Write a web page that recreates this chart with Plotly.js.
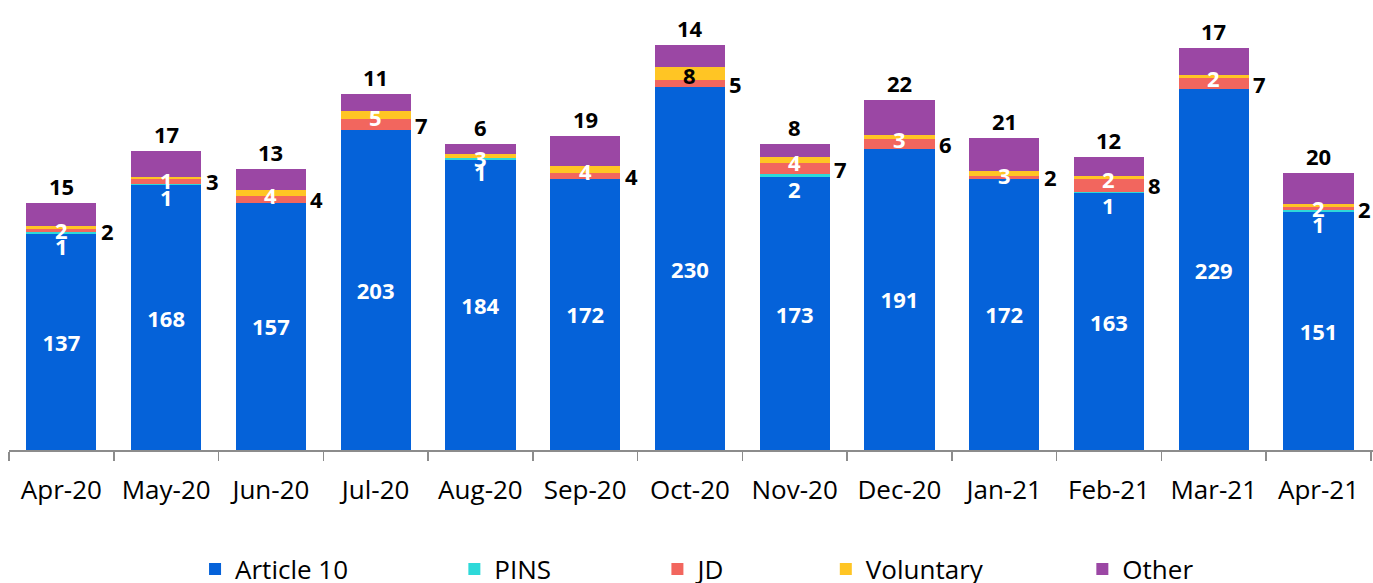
<!DOCTYPE html>
<html>
<head>
<meta charset="utf-8">
<script src="https://cdn.plot.ly/plotly-3.0.1.min.js"></script>
<style>html,body{margin:0;padding:0;background:#fff;}#chart{width:1373px;height:583px;}</style>
</head>
<body>
<div id="chart"></div>
<script>
const months = ["Apr-20","May-20","Jun-20","Jul-20","Aug-20","Sep-20","Oct-20","Nov-20","Dec-20","Jan-21","Feb-21","Mar-21","Apr-21"];
const article10 = [137,168,157,203,184,172,230,173,191,172,163,229,151];
const pins      = [1,1,0,0,1,0,0,2,0,0,1,0,1];
const jd        = [2,3,4,7,0,4,5,7,6,2,8,7,2];
const voluntary = [2,1,4,5,3,4,8,4,3,3,2,2,2];
const other     = [15,17,13,11,6,19,14,8,22,21,12,17,20];
const seriesNames = ["Article 10","PINS","JD","Voluntary","Other"];

const colors = ["#0562D9","#2ED9D9","#F2665E","#FFC524","#9B47A4"];
const volLabelColor = months.map(m => m === "Oct-20" ? "#000000" : "#FFFFFF");
const FONT = "'Open Sans', sans-serif";
const LBL = 22;
const pad = ["\u00a0".repeat(15),"\u00a0".repeat(15),"\u00a0".repeat(14),"\u00a0".repeat(14),""];

const seriesVals = [article10,pins,jd,voluntary,other];
const traces = seriesVals.map((vals,i) => ({
  type:"bar", x:months, y:vals, name:seriesNames[i]+pad[i],
  marker:{color:colors[i], line:{width:0}},
  hoverinfo:"skip",
  text: i===0 ? vals.map(String) : undefined,
  textposition: i===0 ? "inside" : "none",
  insidetextanchor:"middle",
  textfont:{family:FONT, size:LBL, color:"#FFFFFF", weight:"bold"},
  constraintext:"none"
}));

const annotations = [];
months.forEach((m,k) => {
  const b1 = article10[k];
  const b2 = b1 + pins[k];
  const b3 = b2 + jd[k];
  const b4 = b3 + voluntary[k];
  const b5 = b4 + other[k];
  const base = {x:m, xref:"x", yref:"y", showarrow:false};
  if (pins[k] > 0) annotations.push(Object.assign({}, base, {y:b1 + pins[k]/2, yshift:-13, text:String(pins[k]), font:{family:FONT,size:LBL,weight:"bold",color:"#FFFFFF"}}));
  if (jd[k] > 0) annotations.push(Object.assign({}, base, {y:b2 + jd[k]/2, xshift:46, text:String(jd[k]), font:{family:FONT,size:LBL,weight:"bold",color:"#000000"}}));
  if (voluntary[k] > 0) annotations.push(Object.assign({}, base, {y:b3 + voluntary[k]/2, yshift:-2, text:String(voluntary[k]), font:{family:FONT,size:LBL,weight:"bold",color:volLabelColor[k]}}));
  if (other[k] > 0) annotations.push(Object.assign({}, base, {y:b5, yanchor:"bottom", yshift:0, text:String(other[k]), font:{family:FONT,size:LBL,weight:"bold",color:"#000000"}}));
});

const layout = {
  width:1373, height:583,
  margin:{l:9, r:0, t:0, b:133},
  barmode:"stack", bargap:0.33,
  paper_bgcolor:"#FFFFFF", plot_bgcolor:"#FFFFFF",
  font:{family:FONT, size:26, color:"#000000"},
  showlegend:true,
  legend:{orientation:"h", x:0.1364, xanchor:"left", xref:"paper", y:0.024, yref:"container", yanchor:"middle", traceorder:"normal",
          font:{family:FONT, size:26, color:"#000000"}, bgcolor:"rgba(0,0,0,0)"},
  xaxis:{type:"category", showline:true, linecolor:"#8C8C8C", linewidth:1.5, ticks:"outside", tickson:"boundaries",
         ticklen:9, tickcolor:"#8C8C8C", tickwidth:1.5, showgrid:false, zeroline:false,
         tickfont:{family:FONT, size:26, color:"#000000"}, ticklabelstandoff:16, fixedrange:true},
  yaxis:{range:[0,285.5], visible:false, showgrid:false, zeroline:false, fixedrange:true},
  annotations:annotations
};

Plotly.newPlot("chart", traces, layout, {displayModeBar:false, staticPlot:true});
</script>
</body>
</html>
